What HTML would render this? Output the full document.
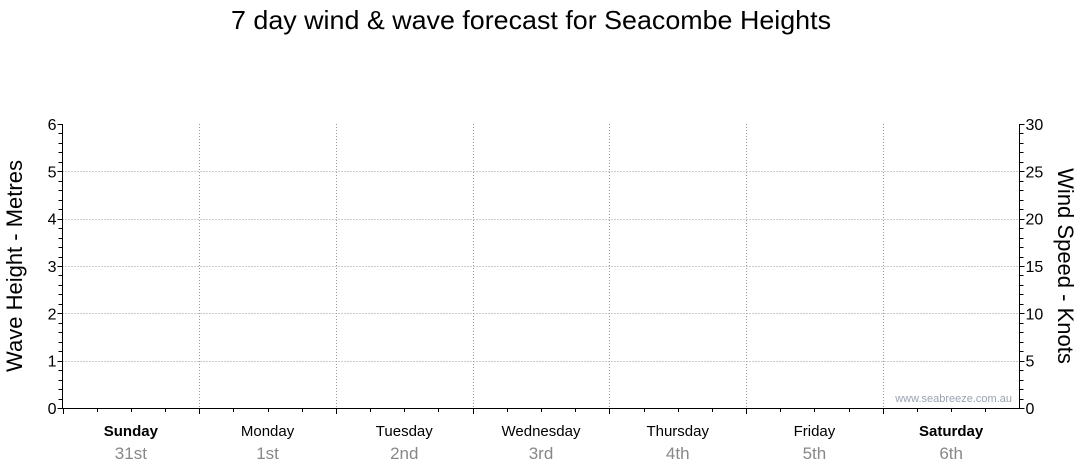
<!DOCTYPE html>
<html><head><meta charset="utf-8"><style>
html,body{margin:0;padding:0;background:#fff;width:1080px;height:475px;overflow:hidden}
svg{display:block;font-family:"Liberation Sans",sans-serif}
</style></head><body>
<svg id="chart" width="1080" height="475" viewBox="0 0 1080 475">
<text x="531" y="29" font-size="26" text-anchor="middle" textLength="600" lengthAdjust="spacingAndGlyphs">7 day wind &amp; wave forecast for Seacombe Heights</text>
<text transform="translate(22,266) rotate(-90)" font-size="22" text-anchor="middle">Wave Height - Metres</text>
<text transform="translate(1058,266) rotate(90)" font-size="22" text-anchor="middle">Wind Speed - Knots</text>
<text x="1012" y="402" font-size="11" fill="#9aa3b0" text-anchor="end">www.seabreeze.com.au</text>
<g id="grid"></g><g id="axes"></g>
</svg>
<script>
const days=["Sunday","Monday","Tuesday","Wednesday","Thursday","Friday","Saturday"];
const dates=["31st","1st","2nd","3rd","4th","5th","6th"];
const boldDays=[true,false,false,false,false,false,true];
const waveTicks=[0,1,2,3,4,5,6];
const windTicks=[0,5,10,15,20,25,30];
const waveHeights=[];
const windSpeeds=[];
const L=62.5,R=1019.5,T=124,B=408;
const NS="http://www.w3.org/2000/svg";
const dw=(R-L)/days.length;
const yWave=v=>B-(v/6)*(B-T);
const yWind=v=>B-(v/30)*(B-T);
const xDay=d=>L+d*dw;
const grid=document.getElementById('grid'),axes=document.getElementById('axes');
function mk(tag,attrs,parent){const e=document.createElementNS(NS,tag);for(const k in attrs)e.setAttribute(k,attrs[k]);parent.appendChild(e);return e;}
waveTicks.forEach(v=>{
  if(v>0&&v<6){const g=mk('line',{x1:L,x2:R,y1:Math.round(yWave(v))+.5,y2:Math.round(yWave(v))+.5,stroke:'#999','stroke-dasharray':'1,2'},grid);
  
  }
  const t=mk('text',{x:L-6,y:yWave(v)+6,'font-size':16,'text-anchor':'end'},axes);t.textContent=v;
  
  
});
for(let i=0;i<=30;i++){const y=Math.round(yWave(i/5))+.5;mk('line',{x1:L-(i%5?4:5),x2:L,y1:y,y2:y,stroke:'#000'},axes);}
windTicks.forEach(v=>{
  const t=mk('text',{x:R+6,y:yWind(v)+6,'font-size':16},axes);t.textContent=v;
  
  
});
for(let i=0;i<=30;i++){const y=Math.round(yWind(i))+.5;mk('line',{x1:R,x2:R+(i%5?4:5),y1:y,y2:y,stroke:'#000'},axes);}
days.forEach((d,i)=>{
  if(i>0){const x=Math.round(xDay(i))+.5;const g=mk('line',{x1:x,x2:x,y1:T,y2:B,stroke:'#999','stroke-dasharray':'1,2'},grid);
  
  }
  for(let q=0;q<4;q++){const x=Math.round(xDay(i)+q*dw/4)+.5;mk('line',{x1:x,x2:x,y1:B,y2:B+(q?4:6),stroke:'#000'},axes);}
  const cx=xDay(i)+dw/2;
  const t=mk('text',{x:cx,y:436,'font-size':15,'text-anchor':'middle','font-weight':boldDays[i]?'bold':'normal'},axes);t.textContent=d;
  
  
  const t2=mk('text',{x:cx,y:459,'font-size':17,'text-anchor':'middle',fill:'#888'},axes);t2.textContent=dates[i];
  
  
});
mk('line',{x1:L,x2:L,y1:T,y2:B,stroke:'#000'},axes);
mk('line',{x1:R,x2:R,y1:T,y2:B,stroke:'#000'},axes);
mk('line',{x1:L,x2:R,y1:B+.5,y2:B+.5,stroke:'#000'},axes);
</script>
</body></html>
